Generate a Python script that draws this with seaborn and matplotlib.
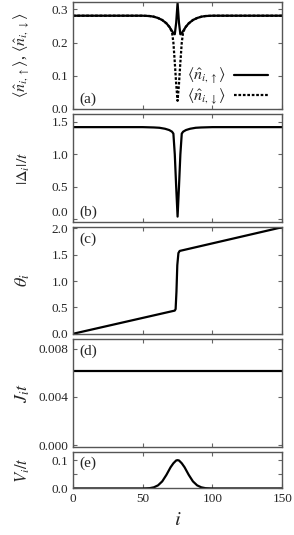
import numpy as np
import pandas as pd
import matplotlib
matplotlib.use("Agg")
import matplotlib.pyplot as plt
import seaborn as sns

# (a) occupation numbers
n_i = [0, 50, 55, 58, 61, 64, 67, 69, 71, 72, 73, 74, 75, 76, 77, 78, 79, 81, 83, 86, 89, 92, 95, 100, 150]
n_up = [0.281, 0.281, 0.280, 0.278, 0.274, 0.268, 0.258, 0.248, 0.235, 0.228, 0.225, 0.26, 0.32, 0.26, 0.225, 0.228, 0.235, 0.248, 0.258, 0.268, 0.274, 0.278, 0.280, 0.281, 0.281]
n_dn = [0.281, 0.281, 0.280, 0.278, 0.274, 0.268, 0.258, 0.248, 0.232, 0.200, 0.140, 0.075, 0.024, 0.075, 0.140, 0.200, 0.232, 0.248, 0.258, 0.268, 0.274, 0.278, 0.280, 0.281, 0.281]

# (b) gap amplitude
d_i = [0, 50, 58, 62, 66, 69, 71, 72, 73, 74, 75, 76, 77, 78, 79, 81, 84, 88, 92, 100, 150]
delta = [1.42, 1.42, 1.415, 1.41, 1.395, 1.375, 1.35, 1.32, 1.00, 0.50, 0.04, 0.50, 1.00, 1.32, 1.35, 1.375, 1.395, 1.41, 1.415, 1.42, 1.42]

# (c) phase
t_i = [0, 73, 73.6, 74.2, 74.8, 75.6, 76.5, 150]
theta = [0.0, 0.44, 0.47, 0.80, 1.30, 1.53, 1.57, 2.02]

# (d) current
j_i = [0, 150]
current = [0.00617, 0.00617]

# (e) potential
v_i = [0, 50, 55, 58, 61, 64, 67, 70, 72, 74, 75, 76, 78, 80, 83, 86, 89, 92, 95, 100, 150]
pot = [0.0, 0.0, 0.001, 0.004, 0.011, 0.025, 0.048, 0.075, 0.089, 0.099, 0.100, 0.099, 0.089, 0.075, 0.048, 0.025, 0.011, 0.004, 0.001, 0.0, 0.0]

sns.set_style("ticks")
plt.rcParams['font.family'] = ['Liberation Serif', 'DejaVu Serif']
plt.rcParams['mathtext.fontset'] = 'stix'
plt.rcParams['xtick.direction'] = 'in'
plt.rcParams['ytick.direction'] = 'in'
plt.rcParams['xtick.top'] = True
plt.rcParams['ytick.right'] = True

fig = plt.figure(figsize=(2.94, 5.35), dpi=100)
gs = fig.add_gridspec(5, 1, height_ratios=[106, 107, 106, 107, 36],
                      left=0.248, right=0.960, top=0.996, bottom=0.087, hspace=0.058)
axes = [fig.add_subplot(gs[k]) for k in range(5)]

lw = 1.6
ax = axes[0]
sns.lineplot(x=n_i, y=n_up, ax=ax, color='black', lw=lw, label=r'$\langle\hat{n}_{i,\uparrow}\rangle$')
sns.lineplot(x=n_i, y=n_dn, ax=ax, color='black', lw=lw, ls=(0, (1.2, 0.8)), label=r'$\langle\hat{n}_{i,\downarrow}\rangle$')
ax.set_ylim(0, 0.322)
ax.set_yticks([0.0, 0.1, 0.2, 0.3])
ax.set_yticklabels(['0.0', '0.1', '0.2', '0.3'])
ax.set_ylabel(r'$\langle\hat{n}_{i,\uparrow}\rangle$, $\langle\hat{n}_{i,\downarrow}\rangle$', fontsize=11.5)
ax.legend(loc='lower right', bbox_to_anchor=(0.97, -0.06), frameon=False, markerfirst=False, fontsize=11.5,
          handlelength=2.1, borderaxespad=0.1, labelspacing=0.05, handletextpad=0.5)
ax.text(0.03, 0.03, '(a)', transform=ax.transAxes, fontsize=11, va='bottom')

ax = axes[1]
sns.lineplot(x=d_i, y=delta, ax=ax, color='black', lw=lw)
ax.set_ylim(-0.04, 1.62)
ax.set_yticks([0.0, 0.5, 1.0, 1.5])
ax.set_yticklabels(['0.0', '0.5', '1.0', '1.5'])
ax.get_yticklabels()[0].set_va('bottom')
ax.set_ylabel(r'$|\mathit{\Delta}_i|/t$', fontsize=11.5)
ax.text(0.03, 0.03, '(b)', transform=ax.transAxes, fontsize=11, va='bottom')

ax = axes[2]
sns.lineplot(x=t_i, y=theta, ax=ax, color='black', lw=lw)
ax.set_ylim(0, 2.02)
ax.set_yticks([0.0, 0.5, 1.0, 1.5, 2.0])
ax.set_yticklabels(['0.0', '0.5', '1.0', '1.5', '2.0'])
ax.set_ylabel(r'$\theta_i$', fontsize=13)
ax.text(0.03, 0.95, '(c)', transform=ax.transAxes, fontsize=11, va='top')

ax = axes[3]
sns.lineplot(x=j_i, y=current, ax=ax, color='black', lw=lw)
ax.set_ylim(-0.00015, 0.0088)
ax.set_yticks([0.0, 0.004, 0.008])
ax.set_yticklabels(['0.000', '0.004', '0.008'])
ax.set_ylabel(r'$J_i t$', fontsize=13)
ax.text(0.03, 0.95, '(d)', transform=ax.transAxes, fontsize=11, va='top')

ax = axes[4]
sns.lineplot(x=v_i, y=pot, ax=ax, color='black', lw=lw)
ax.set_ylim(0, 0.128)
ax.set_yticks([0.0, 0.1])
ax.set_yticklabels(['0.0', '0.1'])
ax.set_yticks([0.05], minor=True)
ax.set_ylabel(r'$V_i/t$', fontsize=12)
ax.set_xlabel(r'$i$', fontsize=15)
ax.text(0.03, 0.88, '(e)', transform=ax.transAxes, fontsize=11, va='top')

for k, ax in enumerate(axes):
    ax.set_xlim(0, 150)
    ax.set_xticks([0, 50, 100, 150])
    ax.tick_params(labelsize=9.5, length=3, width=0.8, color='#666666')
    ax.tick_params(which='minor', length=3, width=0.8, color='#666666', direction='in', right=True)
    for s in ax.spines.values():
        s.set_color('#555555')
        s.set_linewidth(1.0)
    if k < 4:
        ax.tick_params(labelbottom=False)
for ax in axes:
    ax.yaxis.set_label_coords(-0.195, 0.5)

fig.savefig('out.png', dpi=100)
